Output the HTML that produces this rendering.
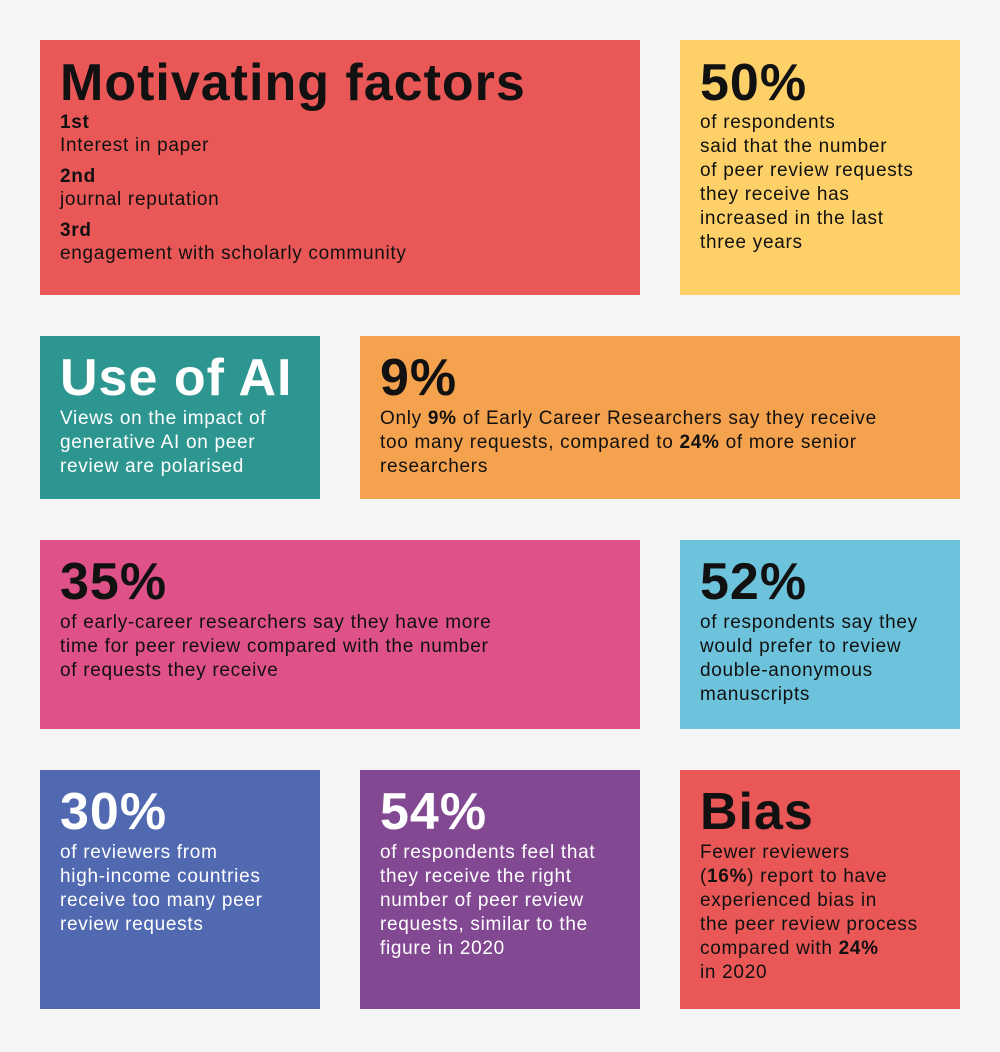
<!DOCTYPE html>
<html><head><meta charset="utf-8"><style>
body{margin:0;width:1000px;height:1052px;background:#f5f5f5;position:relative;font-family:"Liberation Sans",sans-serif;overflow:hidden}
.b{position:absolute}
.t{position:absolute;left:20px;font-size:52px;font-weight:bold;line-height:52px;letter-spacing:1px;white-space:nowrap}
.p{position:absolute;left:20px;font-size:19px;line-height:24px;letter-spacing:0.7px;white-space:nowrap}
.w{color:#fff}.k{color:#111}
</style></head><body>
<div class="b k" style="left:40px;top:40px;width:600px;height:255px;background:#E95757">
<div class="t" style="top:17px">Motivating factors</div>
<div class="p" style="top:71px;line-height:23px"><b>1st</b><br>Interest in paper</div>
<div class="p" style="top:125px;line-height:23px"><b>2nd</b><br>journal reputation</div>
<div class="p" style="top:179px;line-height:23px"><b>3rd</b><br>engagement with scholarly community</div>
</div>
<div class="b k" style="left:680px;top:40px;width:280px;height:255px;background:#FDD068">
<div class="t" style="top:17px">50%</div>
<div class="p" style="top:71px">of respondents<br>said that the number<br>of peer review requests<br>they receive has<br>increased in the last<br>three years</div>
</div>
<div class="b w" style="left:40px;top:336px;width:280px;height:163px;background:#2E9690">
<div class="t" style="top:16px">Use of AI</div>
<div class="p" style="top:71px">Views on the impact of<br>generative AI on peer<br>review are polarised</div>
</div>
<div class="b k" style="left:360px;top:336px;width:600px;height:163px;background:#F5A24E">
<div class="t" style="top:16px">9%</div>
<div class="p" style="top:71px">Only <b>9%</b> of Early Career Researchers say they receive<br>too many requests, compared to <b>24%</b> of more senior<br>researchers</div>
</div>
<div class="b k" style="left:40px;top:540px;width:600px;height:189px;background:#DF5189">
<div class="t" style="top:16px">35%</div>
<div class="p" style="top:71px">of early-career researchers say they have more<br>time for peer review compared with the number<br>of requests they receive</div>
</div>
<div class="b k" style="left:680px;top:540px;width:280px;height:189px;background:#6EC3DC">
<div class="t" style="top:16px">52%</div>
<div class="p" style="top:71px">of respondents say they<br>would prefer to review<br>double-anonymous<br>manuscripts</div>
</div>
<div class="b w" style="left:40px;top:770px;width:280px;height:239px;background:#5169B0">
<div class="t" style="top:16px">30%</div>
<div class="p" style="top:71px">of reviewers from<br>high-income countries<br>receive too many peer<br>review requests</div>
</div>
<div class="b w" style="left:360px;top:770px;width:280px;height:239px;background:#824892">
<div class="t" style="top:16px">54%</div>
<div class="p" style="top:71px">of respondents feel that<br>they receive the right<br>number of peer review<br>requests, similar to the<br>figure in 2020</div>
</div>
<div class="b k" style="left:680px;top:770px;width:280px;height:239px;background:#E95757">
<div class="t" style="top:16px">Bias</div>
<div class="p" style="top:71px">Fewer reviewers<br>(<b>16%</b>) report to have<br>experienced bias in<br>the peer review process<br>compared with <b>24%</b><br>in 2020</div>
</div>
</body></html>
